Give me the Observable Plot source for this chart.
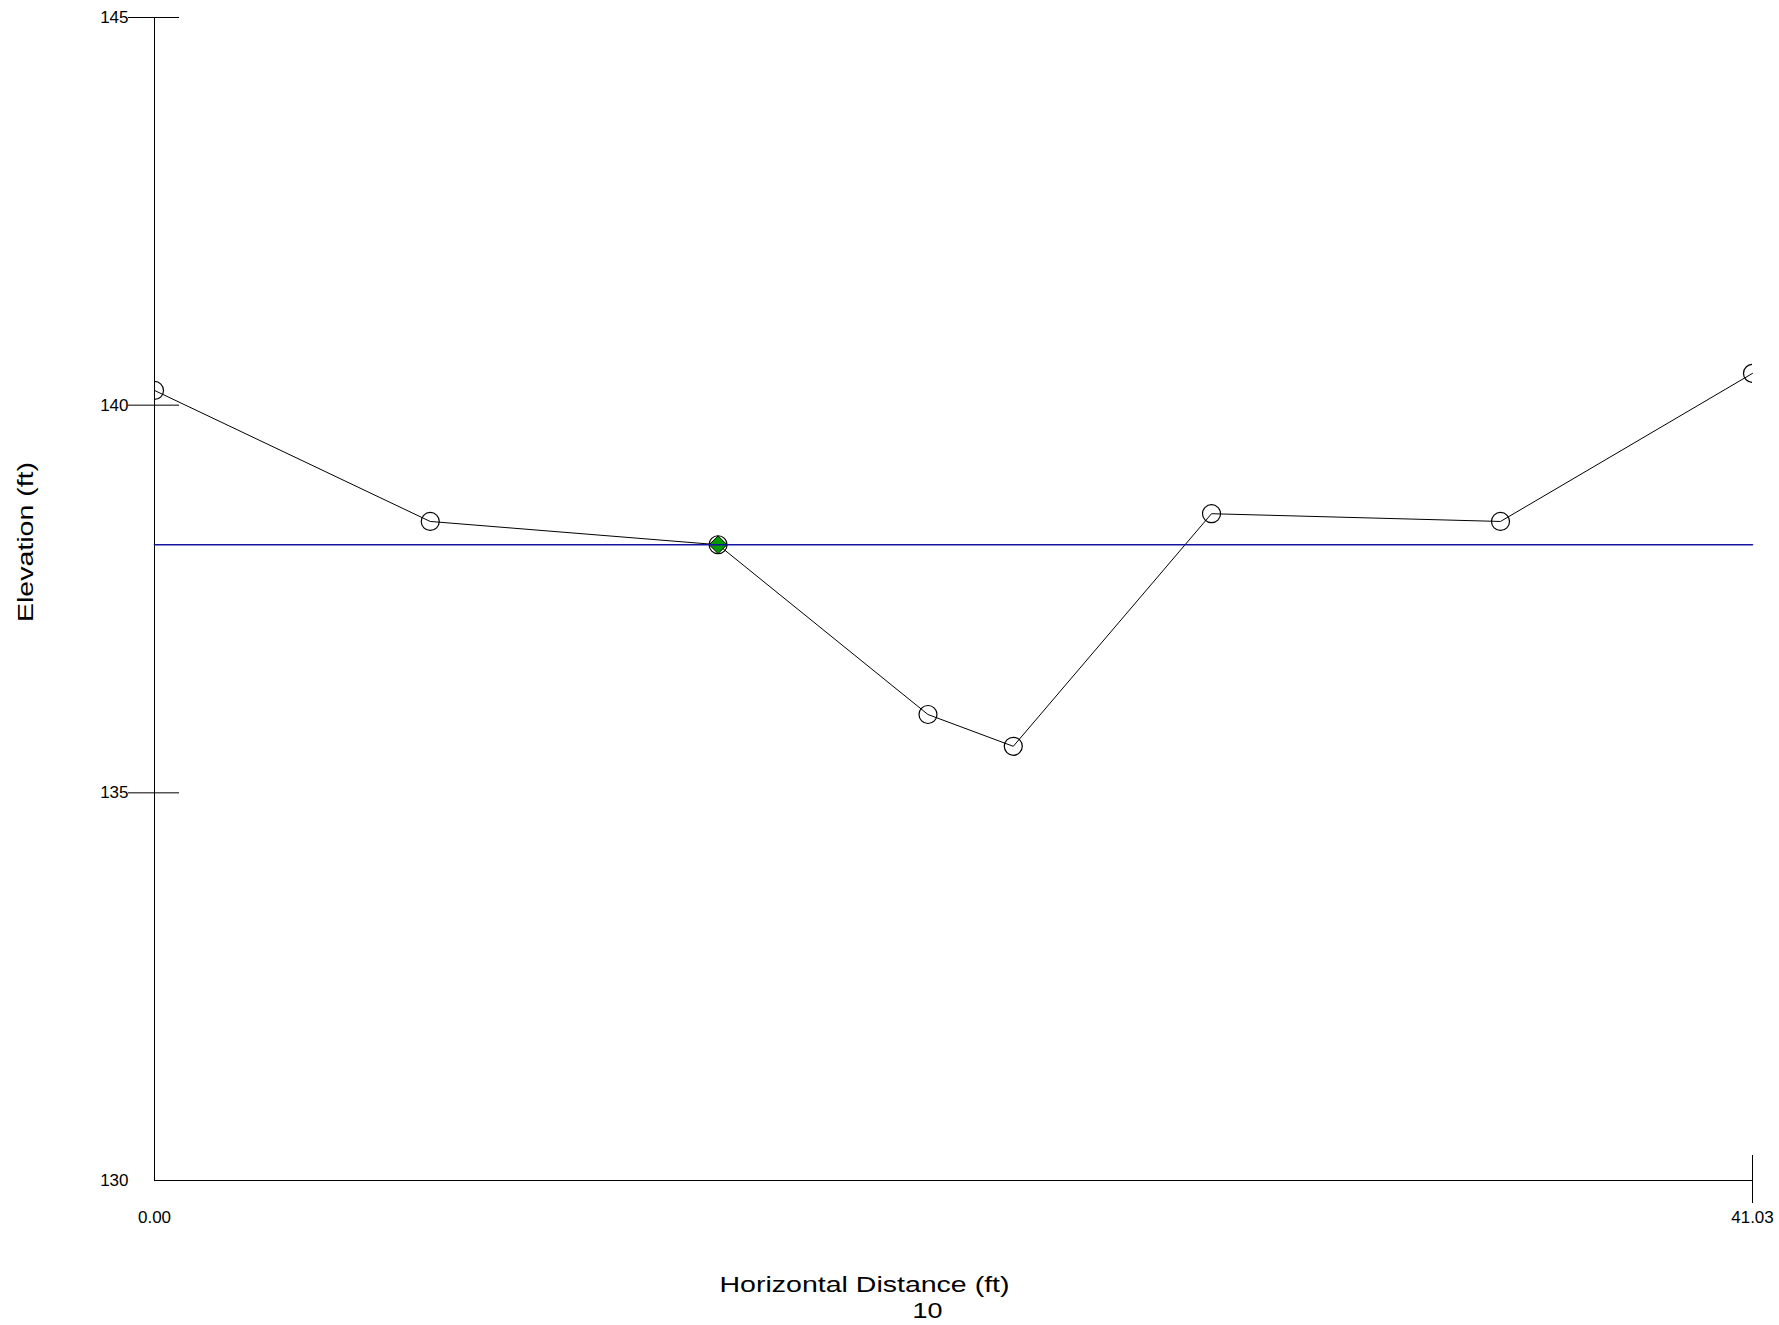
<!DOCTYPE html>
<html>
<head>
<meta charset="utf-8">
<script src="https://cdn.jsdelivr.net/npm/d3@7"></script>
<script src="https://cdn.jsdelivr.net/npm/@observablehq/plot@0.6"></script>
<style>
  html, body { margin: 0; padding: 0; background: #fff; }
  #chart svg { display: block; }
</style>
</head>
<body>
<div id="chart"></div>
<script>
// Cross-section survey points
const distances = [0, 7.08, 14.47, 19.86, 22.05, 27.14, 34.56, 41.03];
const elevations = [140.19, 138.50, 138.20, 136.01, 135.60, 138.60, 138.50, 140.41];
// Water surface elevation and point of interest
const waterSurface = 138.20;
const markerIndex = 2;
// Axis ticks / labels
const xDomain = [0, 41.03];
const yDomain = [130, 145];
const yTickMarks = [135, 140, 145];
const yTickLabels = [130, 135, 140, 145];
const xTickValues = [0, 41.03];
const xTickLabels = ["0.00", "41.03"];
const xTitle = "Horizontal Distance (ft)";
const yTitle = "Elevation (ft)";
const pageNote = "10";

const points = distances.map((d, i) => ({x: d, y: elevations[i]}));
const marker = [points[markerIndex]];
const water = [{x: xDomain[0], y: waterSurface}, {x: xDomain[1], y: waterSurface}];

const font = "'Liberation Sans', Arial, Helvetica, sans-serif";

const chart = Plot.plot({
  width: 1779,
  height: 1325,
  marginLeft: 154,
  marginRight: 27,
  marginTop: 17,
  marginBottom: 145,
  style: {fontFamily: font, background: "#fff", color: "#000"},
  x: {domain: xDomain, axis: null},
  y: {domain: yDomain, axis: null},
  marks: [
    // axes
    Plot.ruleX([xDomain[0]], {y1: yDomain[0], y2: yDomain[1], stroke: "#000", strokeWidth: 1}),
    Plot.ruleY([yDomain[0]], {x1: xDomain[0], x2: xDomain[1], stroke: "#000", strokeWidth: 1}),
    Plot.ruleY(yTickMarks, {x1: 0, x2: 0, insetLeft: -26, insetRight: -25, stroke: "#000", strokeWidth: 1}),
    Plot.ruleX([xDomain[1]], {y1: yDomain[0], y2: yDomain[0], insetTop: -25, insetBottom: -23, stroke: "#000", strokeWidth: 1}),
    Plot.text(yTickLabels, {x: 0, y: d => d, text: d => String(d), textAnchor: "end", dx: -26, fontSize: 17, fill: "#000"}),
    Plot.text(xTickValues, {x: d => d, y: yDomain[0], text: (d, i) => xTickLabels[i], dy: 37, fontSize: 17, fill: "#000"}),
    // profile
    Plot.line(points, {x: "x", y: "y", stroke: "#000", strokeWidth: 1}),
    Plot.dot(points, {x: "x", y: "y", r: 9, stroke: "#000", strokeWidth: 1.2, fill: "none", clip: true}),
    Plot.dot(marker, {x: "x", y: "y", symbol: "diamond2", r: 8, fill: "#009a00", stroke: "#000", strokeWidth: 1}),
    // water surface
    Plot.line(water, {x: "x", y: "y", stroke: "#1414a0", strokeWidth: 1.6}),
    // titles
    Plot.text([xTitle], {frameAnchor: "bottom-left", text: d => d, textAnchor: "start", dx: 565, dy: 111, fontSize: 22, fill: "#000"}),
    Plot.text([pageNote], {frameAnchor: "bottom-left", text: d => d, textAnchor: "start", dx: 758, dy: 137, fontSize: 22, fill: "#000"}),
    Plot.text([yTitle], {frameAnchor: "left", text: d => d, rotate: -90, textAnchor: "start", dx: -129, dy: 23, fontSize: 22, fill: "#000"})
  ]
});

// stretch titles to match the reference's wide lettering
const widths = {[xTitle]: 290, [yTitle]: 160, [pageNote]: 30};
d3.select(chart).selectAll("text").each(function() {
  const t = this.textContent;
  if (widths[t]) {
    this.setAttribute("textLength", widths[t]);
    this.setAttribute("lengthAdjust", "spacingAndGlyphs");
  }
});

document.getElementById("chart").appendChild(chart);
</script>
</body>
</html>
